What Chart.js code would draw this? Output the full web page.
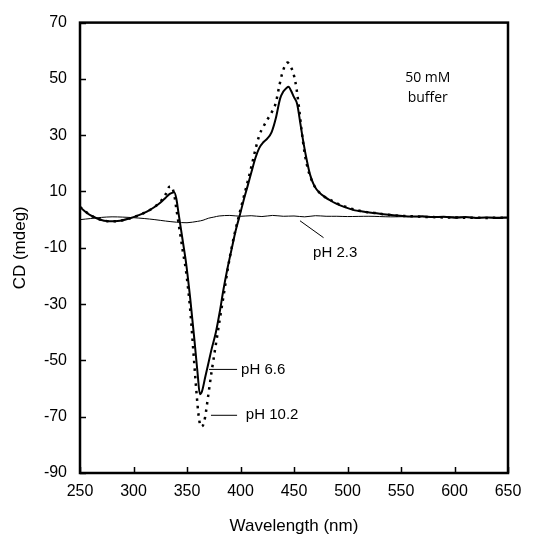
<!DOCTYPE html>
<html>
<head>
<meta charset="utf-8">
<script src="https://cdn.jsdelivr.net/npm/chart.js@4.4.1/dist/chart.umd.min.js"></script>
<style>
  html, body { margin: 0; padding: 0; background: #fff; }
  #wrap { width: 545px; height: 538px; }
</style>
</head>
<body>
<div id="wrap"><canvas id="cd-chart" width="545" height="538"></canvas></div>
<script>
// pH 6.6 (linea continua)
const wl66 = [250,255,260,265,270,275,280,285,290,295,300,305,310,315,320,325,330,333,336,338,340,342,344,346,349,353,357,360,362,364,367,370,373,377,380.5,384,388,392,395.4,399.3,403,406.7,410.3,414,417.6,421.3,425,429,433,437,440,443,445,447,450,453,456,459,462,465,469,474,479,484,489,495,501,507,513,519,525,536,547,560,570,580,590,600,610,620,630,640,650];
const cd66 = [4.5,2.8,1.5,0.6,-0.1,-0.5,-0.6,-0.5,-0.2,0.3,0.9,1.6,2.4,3.4,4.6,6.0,7.8,8.9,9.5,9.7,7.5,2.5,-2.5,-7.5,-15,-28,-43,-55,-62,-61,-56,-51,-46,-40,-33,-25,-17,-10,-4,1.5,7,12,17,22,25.5,27.5,28.8,31,36,43,45.5,46.8,47.2,46,43.5,41,34,27,21,16,12,9.5,8,6.8,5.8,4.8,4,3.3,3,2.6,2.4,1.8,1.5,1.1,1.2,0.9,1.0,0.7,0.9,0.6,0.8,0.6,0.7];

// pH 10.2 (linea punteada)
const wl102 = [250,260,270,280,290,300,310,320,326,330,333,335,338,340,342,344,346,349,353,356,359,361,363,365,367,370,373,376.7,380.4,384.2,387.9,391.7,395.4,399.3,403,406.7,410.3,414,417.6,421.3,425,429,433,436,439,442,444,446,448,451,454,457,460,463,466,469,474,479,484,489,501,513,525,536,547,560,570,580,590,600,610,620,630,640,650];
const cd102 = [4.5,1.5,-0.1,-0.6,-0.2,0.9,2.4,4.6,6.8,9,11.5,11.8,9,4,-1,-6,-11,-18,-32,-47,-62,-70,-73.5,-73,-70,-62,-54,-45,-36,-27,-18,-10,-3.5,2.5,8,13.5,19,25,30,33,35.5,38,41.5,47,52,55,55.8,55,53.5,49.5,42,32,23.5,18,14.5,12,9.5,8,7,6,4.2,3,2.4,1.8,1.4,1.2,1.0,0.9,0.8,0.8,0.7,0.7,0.6,0.7,0.6];

// pH 2.3 (linea fina)
const wl23 = [250,260,270,280,290,300,310,320,330,340,350,360,365,370,375,380,390,400,410,420,430,440,450,460,470,480,490,500,520,540,560,580,600,620,650];
const cd23 = [0,0.4,0.8,1.0,0.9,0.7,0.4,0,-0.5,-0.9,-1.1,-0.6,-0.2,0.5,0.9,1.3,1.5,1.2,1.4,1.1,1.5,1.2,1.3,1.0,1.4,1.2,1.2,1.1,1.2,1.0,1.1,0.9,1.0,0.8,0.9];

const xTicks = [250,300,350,400,450,500,550,600,650];
const yTicks = [-90,-70,-50,-30,-10,10,30,50,70];

// Etiquetas: [texto, x (nm), y (mdeg)]
const notes = [
  ['50 mM', 575, 50.2],
  ['buffer', 575, 43.1]
];
const phLabels = [
  // texto, linea desde (x1,y1) hasta (x2,y2), texto en (tx,ty)
  { text: 'pH 2.3', x1: 455.6, y1: -0.4, x2: 477.6, y2: -6.4, tx: 467.8, ty: -11.8 },
  { text: 'pH 6.6', x1: 370.6, y1: -53.2, x2: 396.8, y2: -53.2, tx: 400.5, ty: -53.5 },
  { text: 'pH 10.2', x1: 372.4, y1: -69.5, x2: 396.8, y2: -69.5, tx: 405, ty: -69.5 }
];

const zip = (xs, ys) => xs.map((x, i) => ({ x, y: ys[i] }));

const frameAndTicks = {
  id: 'frameAndTicks',
  afterDatasetsDraw(chart) {
    const { ctx, chartArea: a, scales: { x, y } } = chart;
    ctx.save();
    ctx.strokeStyle = '#000';
    ctx.lineWidth = 1.5;
    xTicks.forEach(v => {
      const px = Math.round(x.getPixelForValue(v)) + 0.5;
      ctx.beginPath(); ctx.moveTo(px, a.bottom); ctx.lineTo(px, a.bottom - 6); ctx.stroke();
    });
    yTicks.forEach(v => {
      const py = Math.round(y.getPixelForValue(v)) + 0.5;
      ctx.beginPath(); ctx.moveTo(a.left, py); ctx.lineTo(a.left + 6, py); ctx.stroke();
    });
    ctx.lineWidth = 2.5;
    ctx.strokeRect(a.left, a.top, a.right - a.left, a.bottom - a.top);

    // anotaciones
    ctx.fillStyle = '#000';
    ctx.textBaseline = 'middle';
    ctx.font = '14px "Open Sans", sans-serif';
    ctx.textAlign = 'center';
    notes.forEach(([t, nx, ny]) => ctx.fillText(t, x.getPixelForValue(nx), y.getPixelForValue(ny)));

    ctx.font = '15px "Liberation Sans", Arial, sans-serif';
    ctx.textAlign = 'left';
    ctx.lineWidth = 1;
    phLabels.forEach(l => {
      ctx.beginPath();
      ctx.moveTo(x.getPixelForValue(l.x1), y.getPixelForValue(l.y1));
      ctx.lineTo(x.getPixelForValue(l.x2), y.getPixelForValue(l.y2));
      ctx.stroke();
      ctx.fillText(l.text, x.getPixelForValue(l.tx), y.getPixelForValue(l.ty));
    });
    ctx.restore();
  }
};

const axisFont = { family: '"Liberation Sans", Arial, sans-serif', size: 16 };

new Chart(document.getElementById('cd-chart'), {
  type: 'line',
  data: {
    datasets: [
      {
        label: 'pH 2.3',
        data: zip(wl23, cd23),
        borderColor: '#000', borderWidth: 1,
        pointRadius: 0, tension: 0.3, fill: false
      },
      {
        label: 'pH 10.2',
        data: zip(wl102, cd102),
        borderColor: '#000', borderWidth: 2.5,
        borderDash: [2.5, 5],
        pointRadius: 0, cubicInterpolationMode: 'monotone', fill: false
      },
      {
        label: 'pH 6.6',
        data: zip(wl66, cd66),
        borderColor: '#000', borderWidth: 2,
        pointRadius: 0, cubicInterpolationMode: 'monotone', fill: false
      }
    ]
  },
  options: {
    responsive: false,
    devicePixelRatio: 1,
    animation: false,
    layout: { padding: { top: 21, right: 37, left: 0, bottom: 0 } },
    plugins: { legend: { display: false }, tooltip: { enabled: false } },
    scales: {
      x: {
        type: 'linear', min: 250, max: 650,
        afterBuildTicks: s => { s.ticks = xTicks.map(v => ({ value: v })); },
        afterFit: s => { s.height = 65; },
        grid: { display: false, drawTicks: false },
        border: { display: false },
        ticks: { color: '#000', font: axisFont, padding: 9, maxRotation: 0 },
        title: {
          display: true, text: 'Wavelength (nm)', color: '#000',
          font: { family: axisFont.family, size: 17 }, padding: { top: 0, bottom: 1 }
        }
      },
      y: {
        type: 'linear', min: -90, max: 70,
        afterBuildTicks: s => { s.ticks = yTicks.map(v => ({ value: v })); },
        afterFit: s => { s.width = 80; },
        grid: { display: false, drawTicks: false },
        border: { display: false },
        ticks: { color: '#000', font: axisFont, padding: 13 },
        title: {
          display: true, text: 'CD (mdeg)', color: '#000',
          font: { family: axisFont.family, size: 17 }, padding: { top: 10, bottom: 0 }
        }
      }
    }
  },
  plugins: [frameAndTicks]
});
</script>
</body>
</html>
